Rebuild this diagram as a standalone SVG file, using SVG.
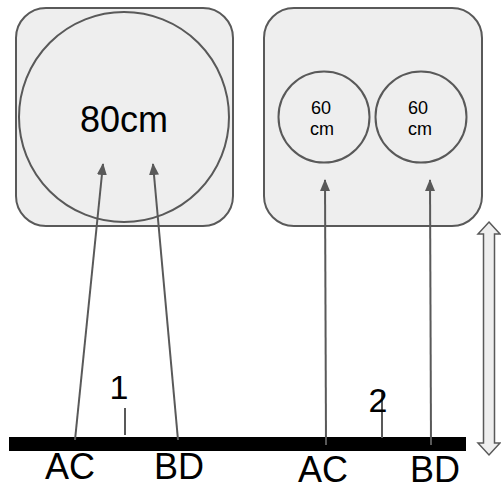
<svg xmlns="http://www.w3.org/2000/svg" width="501" height="485" viewBox="0 0 501 485">
<defs>
<style>
.box{fill:#eeeeee;stroke:#595959;stroke-width:2}
.circ{fill:#eeeeee;stroke:#595959;stroke-width:2}
.conn{stroke:#595959;stroke-width:2;fill:none}
.tick{stroke:#595959;stroke-width:2}
text{font-family:"Liberation Sans",Arial,sans-serif;fill:#000;text-anchor:middle}
</style>
<marker id="ah" viewBox="0 0 12 10" refX="11" refY="5" markerWidth="12" markerHeight="10" markerUnits="userSpaceOnUse" orient="auto">
<path d="M0,0 L12,5 L0,10 Z" fill="#595959"/>
</marker>
</defs>
<g id="table1">
<rect class="box" x="16" y="8" width="217" height="218" rx="30" ry="30"/>
<circle class="circ" cx="124" cy="117" r="105"/>
<text x="124" y="132" font-size="36">80cm</text>
</g>
<g id="table2">
<rect class="box" x="264" y="8" width="218" height="218" rx="30" ry="30"/>
</g>
<g id="circle60a">
<circle class="circ" cx="324" cy="117" r="45.5"/>
<text x="321" y="114" font-size="18">60</text>
<text x="322" y="135" font-size="18">cm</text>
</g>
<g id="circle60b">
<circle class="circ" cx="421" cy="117" r="45.5"/>
<text x="418" y="114" font-size="18">60</text>
<text x="420" y="135" font-size="18">cm</text>
</g>
<g id="bar">
<rect x="9" y="437" width="457" height="14" fill="#000"/>
</g>
<g id="connectors">
<line class="conn" x1="75" y1="440" x2="103" y2="164" marker-end="url(#ah)"/>
<line class="conn" x1="178" y1="440" x2="153" y2="164" marker-end="url(#ah)"/>
<line class="conn" x1="326" y1="445" x2="325" y2="180" marker-end="url(#ah)"/>
<line class="conn" x1="431" y1="445" x2="430" y2="180" marker-end="url(#ah)"/>
<line class="tick" x1="125" y1="408" x2="125" y2="435"/>
<line class="tick" x1="382" y1="393" x2="382" y2="438"/>
</g>
<g id="labels">
<text x="119" y="399" font-size="34">1</text>
<text x="378" y="412" font-size="34">2</text>
<text x="70" y="479" font-size="36">AC</text>
<text x="179" y="479" font-size="36">BD</text>
<text x="323" y="482" font-size="36">AC</text>
<text x="435" y="482" font-size="36">BD</text>
</g>
<g id="dim-arrow">
<path d="M489,222 L500,234 L494.5,234 L494.5,443 L500,443 L489,455 L478,443 L483.5,443 L483.5,234 L478,234 Z" fill="#eeeeee" stroke="#595959" stroke-width="1.5" stroke-linejoin="miter"/>
</g>
</svg>
